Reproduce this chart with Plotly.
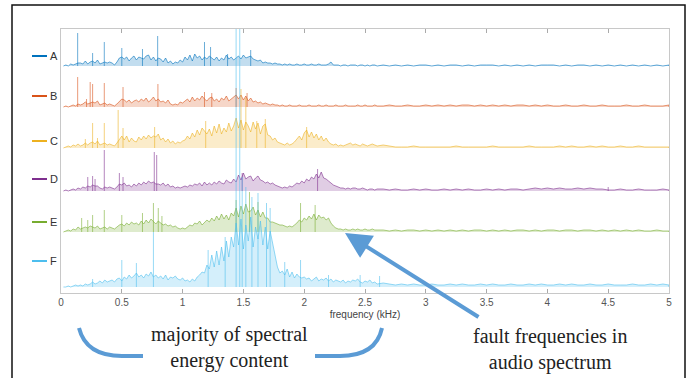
import plotly.graph_objects as go

# ---------------- data (amplitudes, in plot-pixel units) ----------------
series_names = ["A", "B", "C", "D", "E", "F"]
series_colors = ["#0072BD", "#D95319", "#EDB120", "#7E2F8E", "#77AC30", "#4DBEEE"]
series_offsets = [227, 186, 145, 102, 61, 6]

# sampling axis: 0.02 kHz steps up to 2.6 kHz, then 0.05 kHz steps up to 5 kHz
freq_fine = [round(0.02 * k, 2) for k in range(1, 131)]
freq_tail = [round(2.60 + 0.05 * k, 2) for k in range(1, 49)]

band_A = [0,1,0,2,1,2,3,3,2,5, 2,4,5,3,6,2,3,4,3,4, 3,1,4,8,9,7,9,5,8,10,
          6,9,8,7,10,11,6,9,5,8, 7,4,8,3,5,2,4,3,6,4, 9,6,11,5,12,8,10,6,9,7,
          10,8,6,9,5,8,6,11,7,9, 6,8,10,7,11,8,9,10,7,6, 5,6,3,4,3,3,2,3,2,2,
          1,2,1,2,1,1,2,1,1,2, 1,1,2,1,1,2,1,1,1,2, 4,1,1,1,0,1,1,0,1,1,
          1,0,1,1,0,1,0,1,1,0]
tail_A = [1,0,1,0,1,0,1,1,0,1, 0,1,1,0,1,0,1,1,1,0, 1,0,1,0,1,0,1,1,1,0,
          1,0,1,1,0,1,0,1,0,1, 0,1,0,1,0,1,0,1]
spike_f_A = [0.137, 0.26, 0.356, 0.50, 0.67, 0.795, 1.18, 1.23, 1.37, 1.56]
spike_h_A = [33, 13, 24, 18, 17, 30, 24, 19, 12, 16]

band_B = [0,1,0,1,2,1,3,2,3,5, 3,4,5,4,6,2,3,4,2,3, 2,1,3,6,8,7,5,7,4,6,
          7,5,8,6,9,5,7,10,6,8, 5,6,4,7,3,2,3,2,5,4, 6,8,5,10,6,9,7,11,8,6,
          9,10,6,8,5,9,7,11,6,8, 10,12,8,12,7,11,6,9,5,6, 4,5,3,4,3,2,3,2,2,1,
          2,1,1,2,1,1,1,2,1,1, 1,2,1,1,1,2,1,1,2,1, 1,1,2,1,1,1,2,1,1,1,
          1,2,1,1,2,1,1,1,2,1]
tail_B = [1,2,1,1,2,1,1,2,1,2, 1,2,1,2,2,1,2,1,2,1, 2,1,2,2,1,2,1,2,1,1,
          2,1,1,2,1,1,2,1,1,1, 2,1,1,2,1,1,1,2]
spike_f_B = [0.137, 0.21, 0.24, 0.26, 0.356, 0.51, 0.797, 1.18, 1.24, 1.44, 1.53]
spike_h_B = [30, 8, 25, 23, 24, 20, 23, 15, 14, 19, 14]

band_C = [0,1,2,1,3,2,4,2,3,5, 3,5,6,4,7,3,4,5,3,4, 3,2,5,8,12,8,12,6,10,7,
          6,11,8,12,9,13,10,12,11,14, 8,10,6,9,5,7,4,6,5,7, 8,12,9,15,11,18,13,20,17,14,
          19,12,22,15,24,14,20,16,25,17, 22,30,20,28,18,26,22,16,26,19, 25,14,22,24,13,12,8,10,6,5,
          4,3,5,3,4,6,9,12,8,15, 18,11,16,10,14,8,12,7,10,6, 4,3,4,2,3,2,3,4,5,3,
          4,3,2,4,3,2,3,4,3,2]
tail_C = [3,2,1,1,1,2,1,1,1,1, 1,1,2,1,1,1,1,1,2,1, 1,1,1,1,2,1,1,1,1,2,
          1,2,1,1,2,1,2,1,1,2, 1,1,2,1,1,1,1,1]
spike_f_C = [0.20, 0.26, 0.30, 0.356, 0.47, 0.51, 0.77, 1.19, 1.48, 1.52, 1.61, 1.68, 2.02]
spike_h_C = [9, 25, 10, 25, 38, 20, 21, 27, 59, 50, 27, 29, 21]

band_D = [0,1,0,1,2,1,3,2,4,3, 5,4,6,5,5,3,2,4,3,4, 3,2,4,7,6,8,5,6,4,7,
          5,8,6,9,7,10,8,9,7,7, 6,8,5,7,4,5,3,4,3,4, 5,4,6,5,7,6,8,5,9,6,
          8,6,9,7,10,8,7,11,9,8, 12,9,16,11,18,12,14,15,10,13, 15,11,10,8,9,7,8,6,5,4,
          3,4,3,5,4,6,8,7,10,8, 12,10,14,12,17,13,19,13,12,10, 8,6,5,4,3,3,2,3,2,3,
          3,2,2,3,2,1,2,2,1,2]
tail_D = [2,1,2,1,1,2,1,2,1,1, 2,1,2,1,2,1,1,2,1,2, 1,2,2,1,2,3,2,3,2,3,
          2,2,3,2,3,2,2,1,1,2, 1,1,2,1,1,1,2,1]
spike_f_D = [0.22, 0.26, 0.28, 0.356, 0.48, 0.51, 0.767, 0.787, 1.49, 2.11, 4.5]
spike_h_D = [14, 15, 12, 41, 18, 14, 39, 36, 18, 22, 4]

band_E = [0,1,2,1,3,2,5,3,4,5, 4,6,5,4,6,3,4,5,3,5, 4,3,5,7,8,6,9,7,10,8,
          9,7,11,8,12,9,13,10,8,11, 9,7,8,6,7,5,6,4,3,4, 3,5,7,6,9,8,11,7,10,12,
          10,14,11,16,12,18,13,17,12,19, 16,24,15,26,18,28,20,21,25,17, 22,15,20,14,14,10,10,9,8,7,
          7,6,5,6,5,7,9,12,10,14, 12,16,13,18,12,17,14,15,12,14, 9,6,4,3,3,2,3,2,2,3,
          2,3,2,2,3,2,2,3,2,2]
tail_E = [2,1,2,1,2,2,1,2,1,2, 1,2,1,2,1,2,2,1,2,1, 2,1,2,2,1,2,1,2,2,1,
          2,2,1,2,2,1,2,1,2,1, 2,1,2,1,1,2,1,1]
spike_f_E = [0.17, 0.22, 0.26, 0.356, 0.50, 0.67, 0.76, 0.80, 0.83, 1.44, 1.55, 1.62, 1.97, 2.09]
spike_h_E = [14, 12, 17, 22, 17, 19, 29, 24, 16, 32, 40, 30, 29, 27]

band_F = [0,0,1,0,1,2,1,2,1,3, 2,3,5,3,4,6,4,7,5,6, 7,5,8,9,6,10,8,12,9,11,
          14,10,12,9,13,11,15,10,12,9, 11,8,12,7,10,9,11,8,7,9, 6,7,5,8,6,10,12,15,14,22,
          18,32,20,36,22,40,26,46,30,50, 40,64,42,68,38,62,46,70,40,60, 48,66,42,60,38,56,44,30,20,14,
          16,12,18,10,15,9,13,10,9,10, 8,9,6,8,10,6,8,7,9,6, 8,5,7,6,5,7,4,6,5,7,
          6,8,5,4,6,5,7,4,5,3]
tail_F = [4,3,2,3,2,3,2,2,3,2, 2,3,2,3,2,2,3,2,3,2, 2,3,2,2,3,2,3,2,2,3,
          2,3,2,2,3,2,2,3,2,2, 2,3,2,2,3,2,3,2]
spike_f_F = [0.26, 0.50, 0.62, 0.76, 1.21, 1.35, 1.44, 1.47, 1.49, 1.52, 1.57, 1.62, 1.69, 1.72,
             1.84, 1.97, 2.20, 2.46, 2.62]
spike_h_F = [8, 27, 24, 55, 37, 50, 300, 300, 110, 100, 90, 94, 84, 79, 25, 27, 12, 12, 11]

bands = [band_A, band_B, band_C, band_D, band_E, band_F]
tails = [tail_A, tail_B, tail_C, tail_D, tail_E, tail_F]
spike_fs = [spike_f_A, spike_f_B, spike_f_C, spike_f_D, spike_f_E, spike_f_F]
spike_hs = [spike_h_A, spike_h_B, spike_h_C, spike_h_D, spike_h_E, spike_h_F]

x_ticks = [0, 0.5, 1, 1.5, 2, 2.5, 3, 3.5, 4, 4.5, 5]
x_tick_labels = ["0", "0.5", "1", "1.5", "2", "2.5", "3", "3.5", "4", "4.5", "5"]

# ---------------- figure ----------------
W, H = 696, 378
ML, MR, MT, MB = 61, 27, 29, 85
PW, PH = W - ML - MR, H - MT - MB


def px(x):
    return (x - ML) / PW


def py(y):
    return (H - MB - y) / PH


def rgba(hexc, a):
    h = hexc.lstrip("#")
    return "rgba(%d,%d,%d,%.2f)" % (int(h[0:2], 16), int(h[2:4], 16), int(h[4:6], 16), a)


fig = go.Figure()
freqs = freq_fine + freq_tail
for name, col, off, band, tail, sf, sh in zip(series_names, series_colors, series_offsets,
                                               bands, tails, spike_fs, spike_hs):
    vals = band + tail
    xs = [freqs[0]] + freqs + [freqs[-1]]
    ys = [off] + [off + v for v in vals] + [off]
    fig.add_trace(go.Scatter(x=xs, y=ys, mode="lines", fill="toself",
                             fillcolor=rgba(col, 0.24),
                             line=dict(color=rgba(col, 0.85), width=0.7),
                             hoverinfo="skip", showlegend=False, name=name))
    spx, spy = [], []
    for f, h in zip(sf, sh):
        spx += [f, f, None]
        spy += [off, off + h, None]
    fig.add_trace(go.Scatter(x=spx, y=spy, mode="lines",
                             line=dict(color=rgba(col, 0.65), width=0.9),
                             hoverinfo="skip", showlegend=False))

shapes = []
annotations = []

# legend at the left
legend_y = [56, 96, 141, 179, 222, 261]
for name, col, ly in zip(series_names, series_colors, legend_y):
    shapes.append(dict(type="line", xref="paper", yref="paper",
                       x0=px(32), x1=px(47), y0=py(ly), y1=py(ly),
                       line=dict(color=col, width=2)))
    annotations.append(dict(text=name, xref="paper", yref="paper", x=px(48), y=py(ly),
                            xanchor="left", yanchor="middle", showarrow=False,
                            font=dict(family="Liberation Sans, Arial", size=11, color="#333")))

# outer frame
shapes.append(dict(type="rect", xref="paper", yref="paper",
                   x0=px(12), x1=px(685), y0=py(5), y1=py(395),
                   line=dict(color="#111", width=1.5)))


def path_px(points):
    cmd = []
    for c, *xy in points:
        coords = " ".join("%f,%f" % (px(xy[i]), py(xy[i + 1])) for i in range(0, len(xy), 2))
        cmd.append(c + coords)
    return " ".join(cmd)


blue = "#5B9BD5"
shapes.append(dict(type="path", xref="paper", yref="paper",
                   path=path_px([("M", 79, 328), ("Q", 86, 356, 122, 356), ("L", 143, 356)]),
                   line=dict(color=blue, width=4)))
shapes.append(dict(type="path", xref="paper", yref="paper",
                   path=path_px([("M", 315, 356), ("L", 340, 356), ("Q", 376, 356, 382, 328)]),
                   line=dict(color=blue, width=4)))

serif = "Liberation Serif, Times New Roman, serif"
annotations.append(dict(text="majority of spectral<br>energy content", xref="paper", yref="paper",
                        x=px(229), y=py(347), xanchor="center", yanchor="middle", showarrow=False,
                        font=dict(family=serif, size=20, color="#222")))
annotations.append(dict(text="fault frequencies in<br>audio spectrum", xref="paper", yref="paper",
                        x=px(550), y=py(349), xanchor="center", yanchor="middle", showarrow=False,
                        font=dict(family=serif, size=20, color="#222")))
annotations.append(dict(text="", xref="paper", yref="paper", x=px(345), y=py(233),
                        ax=135, ay=85, showarrow=True, arrowhead=2, arrowsize=1.3,
                        arrowwidth=4, arrowcolor=blue, standoff=0))

fig.update_layout(
    width=W, height=H,
    margin=dict(l=ML, r=MR, t=MT, b=MB),
    paper_bgcolor="white", plot_bgcolor="white",
    shapes=shapes, annotations=annotations,
    showlegend=False,
    xaxis=dict(range=[0, 5], tickvals=x_ticks, ticktext=x_tick_labels,
               ticks="inside", ticklen=4, tickcolor="#aaa", showgrid=False, zeroline=False,
               showline=True, linecolor="#c8c8c8", linewidth=1, mirror="ticks",
               tickfont=dict(family="Liberation Sans, Arial", size=10, color="#555"),
               title=dict(text="frequency (kHz)", standoff=3,
                          font=dict(family="Liberation Sans, Arial", size=10, color="#444"))),
    yaxis=dict(range=[0, PH], showticklabels=False, ticks="", showgrid=False, zeroline=False,
               showline=True, linecolor="#c8c8c8", linewidth=1, mirror=True),
)

fig.write_html("out.html", config={"displayModeBar": False},
               post_script="document.body.style.margin='0px';")
